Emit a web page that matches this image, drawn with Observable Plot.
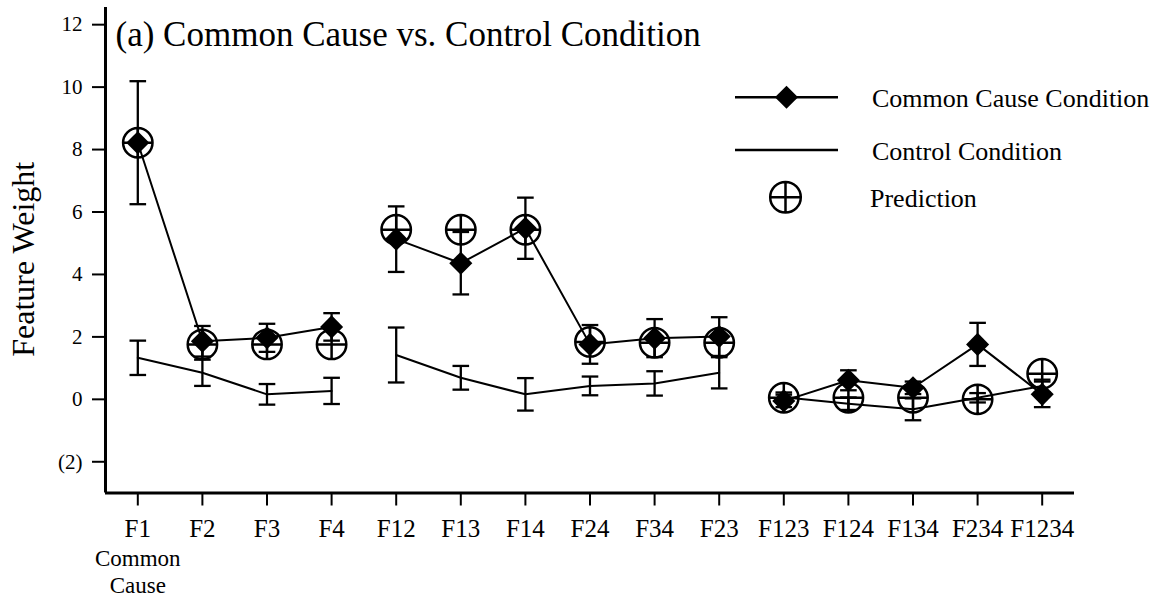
<!DOCTYPE html>
<html>
<head>
<meta charset="utf-8">
<script src="https://cdn.jsdelivr.net/npm/d3@7"></script>
<script src="https://cdn.jsdelivr.net/npm/@observablehq/plot@0.6"></script>
<style>
  html, body { margin: 0; padding: 0; background: #fff; }
  #chart { position: relative; width: 1162px; height: 596px; }
</style>
</head>
<body>
<div id="chart"></div>
<script>
const categories = ["F1","F2","F3","F4","F12","F13","F14","F24","F34","F23","F123","F124","F134","F234","F1234"];
const segments = [1,1,1,1,2,2,2,2,2,2,3,3,3,3,3];
const commonCause = [8.22,1.86,1.97,2.32,5.13,4.36,5.48,1.76,1.96,2.01,-0.05,0.61,0.37,1.76,0.16];
const commonCauseErr = [1.97,0.49,0.45,0.44,1.05,1.0,0.98,0.62,0.61,0.62,0.2,0.32,0.2,0.69,0.41];
const control = [1.33,0.85,0.16,0.27,1.42,0.69,0.16,0.43,0.51,0.85,0.07,-0.14,-0.32,0.05,0.43];
const controlErr = [0.55,0.42,0.33,0.42,0.88,0.38,0.52,0.3,0.39,0.5,0.15,0.2,0.35,0.15,0.2];
const prediction = [8.22,1.76,1.76,1.76,5.43,5.43,5.43,1.84,1.81,1.81,0.05,0.05,0.05,0.0,0.82];
const yTicks = [-2,0,2,4,6,8,10,12];
const titleText = "(a) Common Cause vs. Control Condition";
const yLabel = "Feature Weight";
const subLabel = "Common\nCause";
const legendItems = ["Common Cause Condition","Control Condition","Prediction"];

const rows = categories.map((c, i) => ({
  i, c, seg: segments[i],
  cc: commonCause[i], ccErr: commonCauseErr[i],
  ct: control[i], ctErr: controlErr[i],
  pred: prediction[i]
}));

const FONT = "Liberation Serif, Times New Roman, serif";

// custom symbols
const circlePlus = {
  draw(ctx, size) {
    const r = Math.sqrt(size / Math.PI);
    ctx.moveTo(r, 0);
    ctx.arc(0, 0, r, 0, 2 * Math.PI);
    ctx.moveTo(-r, 0); ctx.lineTo(r, 0);
    ctx.moveTo(0, -r); ctx.lineTo(0, r);
  }
};
const hline = {
  draw(ctx, size) {
    const r = Math.sqrt(size / Math.PI);
    ctx.moveTo(-r, 0); ctx.lineTo(r, 0);
  }
};

const plot = Plot.plot({
  width: 1162,
  height: 596,
  marginLeft: 105,
  marginRight: 88,
  marginTop: 7,
  marginBottom: 103.5,
  style: { fontFamily: FONT, color: "black", background: "white", overflow: "visible" },
  x: { type: "linear", domain: [-0.5, categories.length - 0.5] },
  y: { domain: [-3, 12.55] },
  marks: [
    // axes
    Plot.axisY({
      ticks: yTicks, tickSize: 13, tickPadding: 10, fontSize: 21, strokeWidth: 2,
      tickFormat: d => d < 0 ? `(${-d})` : String(d), label: null
    }),
    Plot.axisX({
      ticks: d3.range(categories.length), tickSize: 13, tickPadding: 13.5, fontSize: 25, strokeWidth: 2,
      tickFormat: i => categories[i], label: null
    }),
    Plot.ruleX([-0.5], { stroke: "black", strokeWidth: 3 }),
    Plot.ruleY([-3], { stroke: "black", strokeWidth: 3 }),
    // sub label under F1
    Plot.text([subLabel], {
      x: () => 0, frameAnchor: "bottom", lineAnchor: "top", dy: 54,
      fontSize: 23, lineHeight: 1.17, fill: "black", text: d => d
    }),
    // title
    Plot.text([titleText], {
      frameAnchor: "top-left", textAnchor: "start", lineAnchor: "bottom",
      dx: 10, dy: 38, fontSize: 35, fill: "black", text: d => d
    }),
    // y label
    Plot.text([yLabel], {
      frameAnchor: "left", rotate: -90, textAnchor: "middle", lineAnchor: "bottom",
      dx: -72, dy: 9, fontSize: 32, fill: "black", text: d => d
    }),
    // prediction symbols
    Plot.dot(rows, { x: "i", y: "pred", r: 14.7, symbol: circlePlus, fill: "none", stroke: "black", strokeWidth: 2.5 }),
    // lines
    Plot.line(rows, { x: "i", y: "ct", z: "seg", stroke: "black", strokeWidth: 2 }),
    Plot.line(rows, { x: "i", y: "cc", z: "seg", stroke: "black", strokeWidth: 2 }),
    // error bars - control
    Plot.ruleX(rows, { x: "i", y1: d => d.ct - d.ctErr, y2: d => d.ct + d.ctErr, stroke: "black", strokeWidth: 2.3 }),
    Plot.dot(rows, { x: "i", y: d => d.ct - d.ctErr, symbol: hline, r: 8.3, stroke: "black", strokeWidth: 2.3 }),
    Plot.dot(rows, { x: "i", y: d => d.ct + d.ctErr, symbol: hline, r: 8.3, stroke: "black", strokeWidth: 2.3 }),
    // error bars - common cause
    Plot.ruleX(rows, { x: "i", y1: d => d.cc - d.ccErr, y2: d => d.cc + d.ccErr, stroke: "black", strokeWidth: 2.3 }),
    Plot.dot(rows, { x: "i", y: d => d.cc - d.ccErr, symbol: hline, r: 8.3, stroke: "black", strokeWidth: 2.3 }),
    Plot.dot(rows, { x: "i", y: d => d.cc + d.ccErr, symbol: hline, r: 8.3, stroke: "black", strokeWidth: 2.3 }),
    // diamonds
    Plot.dot(rows, { x: "i", y: "cc", symbol: "diamond2", r: 10.4, fill: "black", stroke: "none" })
  ]
});

document.getElementById("chart").appendChild(plot);

// legend drawn into the same svg
const svg = d3.select(plot);
const lg = svg.append("g")
  .attr("font-family", FONT)
  .attr("font-size", 26)
  .attr("fill", "black")
  .attr("text-anchor", "start");
const lx1 = 735, lx2 = 838, lxm = (lx1 + lx2) / 2, tx = 872;
const rowsY = [97.3, 150, 197.3];
// CC
lg.append("line").attr("x1", lx1).attr("x2", lx2).attr("y1", rowsY[0]).attr("y2", rowsY[0]).attr("stroke", "black").attr("stroke-width", 2.5);
const dpath = d3.path(); d3.symbolDiamond2.draw(dpath, 10.4 * 10.4 * Math.PI);
lg.append("path").attr("d", dpath.toString()).attr("transform", `translate(${lxm},${rowsY[0]})`).attr("fill", "black");
lg.append("text").attr("x", tx).attr("y", rowsY[0] + 9.4).attr("text-anchor", "start").text(legendItems[0]);
// Control
lg.append("line").attr("x1", lx1).attr("x2", lx2).attr("y1", rowsY[1]).attr("y2", rowsY[1]).attr("stroke", "black").attr("stroke-width", 2.5);
lg.append("text").attr("x", tx).attr("y", rowsY[1] + 10).attr("text-anchor", "start").text(legendItems[1]);
// Prediction
const cpath = d3.path(); circlePlus.draw(cpath, 15.3 * 15.3 * Math.PI);
lg.append("path").attr("d", cpath.toString()).attr("transform", `translate(${lxm - 1},${rowsY[2]})`).attr("fill", "none").attr("stroke", "black").attr("stroke-width", 2.5);
lg.append("text").attr("x", tx - 2).attr("y", rowsY[2] + 9.4).attr("text-anchor", "start").text(legendItems[2]);
</script>
</body>
</html>
